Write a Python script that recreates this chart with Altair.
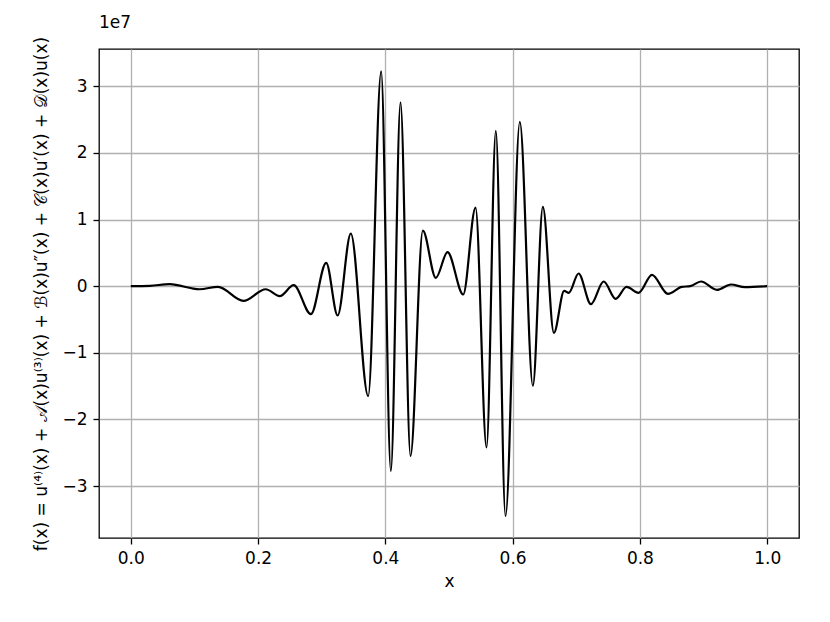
import altair as alt
import pandas as pd

# x positions and f(x) values (in units of 1e7)
x_vals = [0.0, 0.03, 0.061, 0.108, 0.137, 0.177, 0.212, 0.234, 0.256, 0.283,
          0.307, 0.325, 0.3457, 0.373, 0.3934, 0.4086, 0.4238, 0.4395, 0.4589, 0.4793,
          0.4977, 0.5223, 0.5417, 0.559, 0.5736, 0.5888, 0.6113, 0.6318, 0.6475, 0.6648,
          0.681, 0.6883, 0.7036, 0.723, 0.743, 0.762, 0.779, 0.798, 0.819, 0.844,
          0.866, 0.879, 0.896, 0.921, 0.943, 0.965, 1.0]
y_vals = [0.0, 0.005, 0.03, -0.046, -0.01, -0.22, -0.046, -0.15, 0.015, -0.42,
          0.35, -0.44, 0.79, -1.65, 3.225, -2.775, 2.76, -2.55, 0.835, 0.125,
          0.51, -0.125, 1.18, -2.42, 2.33, -3.45, 2.465, -1.495, 1.19, -0.70,
          -0.07, -0.10, 0.19, -0.27, 0.07, -0.19, -0.01, -0.10, 0.17, -0.115,
          -0.01, 0.0, 0.07, -0.055, 0.025, -0.015, 0.0]

x_ticks = [0.0, 0.2, 0.4, 0.6, 0.8, 1.0]
y_ticks = [-3, -2, -1, 0, 1, 2, 3]
x_title = "x"
y_title = "f(x) = u⁽⁴⁾(x) + 𝒜(x)u⁽³⁾(x) + ℬ(x)u″(x) + 𝒞(x)u′(x) + 𝒟(x)u(x)"
offset_text = "1e7"

df = pd.DataFrame({"x": x_vals, "y": y_vals})

FONT = "DejaVu Sans"

chart = alt.Chart(df).mark_line(
    color="black", strokeWidth=2.2, interpolate="monotone"
).encode(
    x=alt.X("x:Q",
            scale=alt.Scale(domain=[-0.05, 1.05], nice=False, zero=False),
            axis=alt.Axis(values=x_ticks, format=".1f", title=x_title,
                          titlePadding=7)),
    y=alt.Y("y:Q",
            scale=alt.Scale(domain=[-3.78, 3.56], nice=False, zero=False),
            axis=alt.Axis(values=y_ticks, format="d", title=y_title,
                          titlePadding=11)),
).properties(
    width=700,
    height=489,
    padding={"left": 91, "top": 41, "right": 20, "bottom": 60},
    autosize=alt.AutoSizeParams(type="none"),
    title=alt.TitleParams(offset_text, anchor="start", frame="group",
                          font=FONT, fontSize=17, fontWeight="normal",
                          color="black", offset=4),
).configure_view(
    stroke="black", strokeWidth=1.3
).configure_axis(
    grid=True, gridColor="#b0b0b0", gridWidth=1.3,
    domain=False,
    tickColor="black", tickSize=6, tickWidth=1.3,
    labelFont=FONT, labelFontSize=17, labelColor="black", labelPadding=6,
    titleFont=FONT, titleFontSize=17, titleFontWeight="normal", titleColor="black",
)

chart.save("out.html", embed_options={"renderer": "svg", "actions": False})
